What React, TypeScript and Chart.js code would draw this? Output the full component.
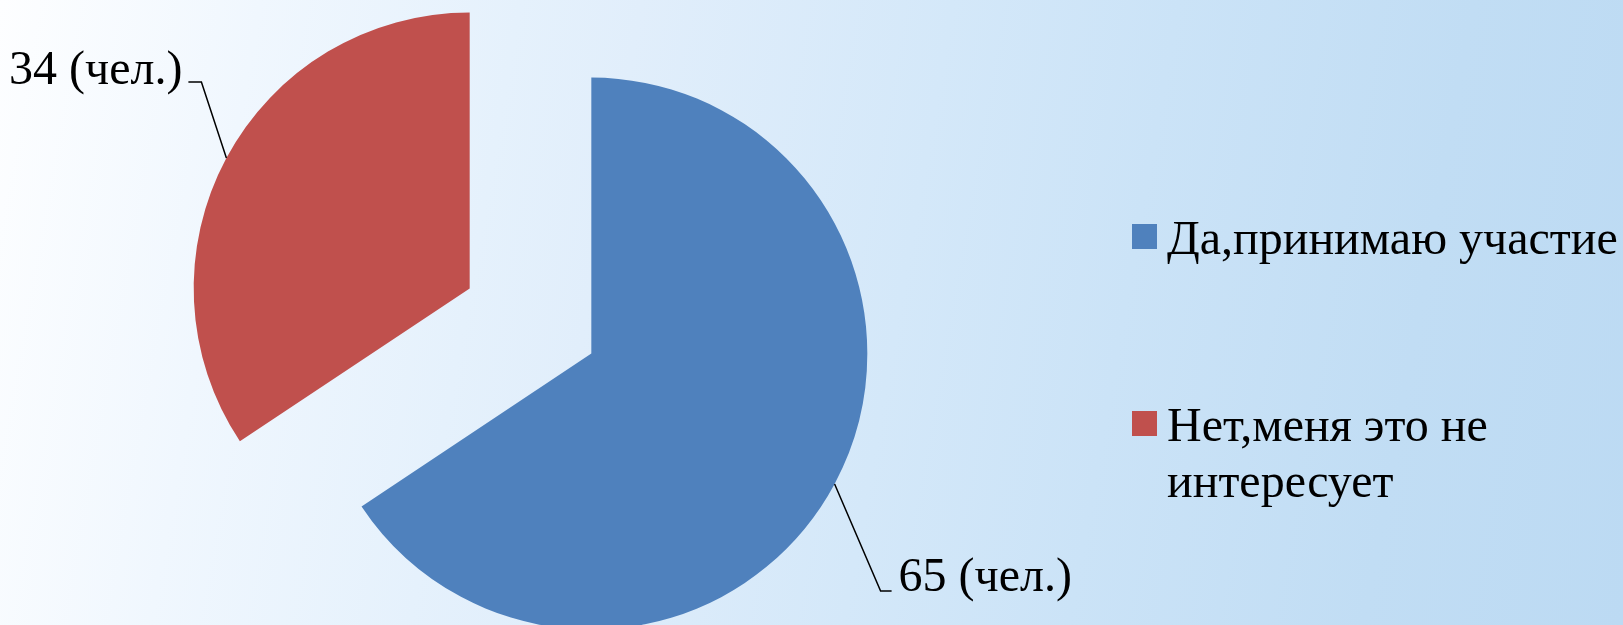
import React, { useEffect, useRef } from "react";
import { Chart, registerables } from "chart.js";

Chart.register(...registerables);

const categories = ["Да,принимаю участие", "Нет,меня это не интересует"];
const values = [65, 34];
const unit = "(чел.)";
const colors = ["#4f81bd", "#c0504d"];

const FONT = '"Liberation Serif", "Times New Roman", serif';
const FONT_SIZE = 48;

const explodePlugin = {
  id: "explode",
  afterDatasetUpdate(chart: any, args: any, opts: any) {
    const meta = chart.getDatasetMeta(args.index);
    const d = (opts && opts.distance) || 0;
    meta.data.forEach((el: any) => {
      const mid = (el.startAngle + el.endAngle) / 2;
      el.x += Math.cos(mid) * d;
      el.y += Math.sin(mid) * d;
    });
  },
};

const leaderLabelPlugin = {
  id: "leaderLabels",
  afterDatasetsDraw(chart: any, _args: any, opts: any) {
    const ctx = chart.ctx;
    const meta = chart.getDatasetMeta(0);
    const ds = chart.data.datasets[0];
    ctx.save();
    ctx.font = `${FONT_SIZE}px ${FONT}`;
    ctx.strokeStyle = "#000";
    ctx.fillStyle = "#000";
    ctx.lineWidth = 1.5;
    meta.data.forEach((el: any, i: number) => {
      const cfg = opts.layout[i];
      const mid = (el.startAngle + el.endAngle) / 2;
      const sx = el.x + Math.cos(mid) * el.outerRadius;
      const sy = el.y + Math.sin(mid) * el.outerRadius;
      const ex = sx + cfg.dx;
      const ey = sy + cfg.dy;
      const hx = ex + cfg.h;
      ctx.beginPath();
      ctx.moveTo(sx, sy);
      ctx.lineTo(ex, ey);
      ctx.lineTo(hx, ey);
      ctx.stroke();
      const text = `${ds.data[i]} ${unit}`;
      ctx.textAlign = cfg.h > 0 ? "left" : "right";
      ctx.textBaseline = "alphabetic";
      ctx.fillText(text, hx + Math.sign(cfg.h) * cfg.gap, ey + cfg.by);
    });
    ctx.restore();
  },
};

const sideLegendPlugin = {
  id: "sideLegend",
  afterDraw(chart: any, _args: any, opts: any) {
    const ctx = chart.ctx;
    const labels: string[] = chart.data.labels;
    const bg: string[] = chart.data.datasets[0].backgroundColor;
    ctx.save();
    ctx.font = `${FONT_SIZE}px ${FONT}`;
    ctx.textAlign = "left";
    ctx.textBaseline = "alphabetic";
    const maxW = chart.width - opts.textX + 10;
    let baseline = opts.firstBaseline;
    labels.forEach((label, i) => {
      const words = label.split(" ");
      const lines: string[] = [];
      let cur = "";
      words.forEach((w) => {
        const test = cur ? cur + " " + w : w;
        if (cur && ctx.measureText(test).width > maxW) {
          lines.push(cur);
          cur = w;
        } else cur = test;
      });
      if (cur) lines.push(cur);
      ctx.fillStyle = bg[i];
      ctx.fillRect(opts.boxX, baseline - opts.boxRise, opts.boxSize, opts.boxSize);
      ctx.fillStyle = "#000";
      lines.forEach((ln, j) => {
        ctx.fillText(ln, opts.textX, baseline + j * opts.lineHeight);
      });
      baseline += opts.itemGap;
    });
    ctx.restore();
  },
};

export default function App() {
  const ref = useRef<HTMLCanvasElement>(null);
  useEffect(() => {
    const chart = new Chart(ref.current as HTMLCanvasElement, {
      type: "pie",
      data: {
        labels: categories,
        datasets: [
          {
            data: values,
            backgroundColor: colors,
            borderWidth: 0,
            clip: false as any,
          } as any,
        ],
      },
      options: {
        responsive: false,
        animation: false,
        radius: 276,
        layout: { padding: { left: 0, right: 562, top: 17, bottom: 0 } },
        plugins: {
          legend: { display: false },
          tooltip: { enabled: false },
          explode: { distance: 69 },
          leaderLabels: {
            layout: [
              { dx: 46, dy: 107, h: 11, gap: 7, by: 0 },
              { dx: -25, dy: -76, h: -13, gap: 6, by: 2 },
            ],
          },
          sideLegend: {
            boxX: 1132,
            boxSize: 25,
            boxRise: 30,
            textX: 1167,
            firstBaseline: 254,
            itemGap: 187,
            lineHeight: 56,
          },
        } as any,
      } as any,
      plugins: [explodePlugin, leaderLabelPlugin, sideLegendPlugin],
    });
    return () => chart.destroy();
  }, []);
  return (
    <div
      style={{
        position: "fixed",
        left: 0,
        top: 0,
        width: 1623,
        height: 625,
        background:
          "linear-gradient(100deg, #fdfeff 0%, #f0f7fe 15%, #e5f1fc 30%, #e1eefb 37%, #d4e8f9 55%, #cbe3f7 68%, #c1ddf4 85%, #bcdaf3 100%)",
      }}
    >
      <canvas ref={ref} width={1623} height={625} style={{ display: "block" }} />
    </div>
  );
}
